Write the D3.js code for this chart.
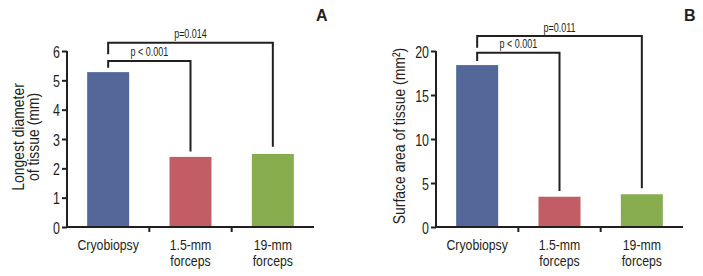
<!DOCTYPE html>
<html><head><meta charset="utf-8">
<script src="https://cdn.jsdelivr.net/npm/d3@7"></script>
<style>
html,body{margin:0;padding:0;background:#fff;}
text{font-family:"Liberation Sans",Arial,sans-serif;fill:#231f20;}
</style></head><body>
<svg id="c" width="703" height="276"></svg>
<script>
const categories = [["Cryobiopsy"], ["1.5-mm", "forceps"], ["19-mm", "forceps"]];
const catKeys = ["Cryobiopsy", "1.5-mm forceps", "19-mm forceps"];
const colors = ["#536898", "#c25d65", "#87ad4f"];

const valuesA = [5.28, 2.39, 2.49];
const ticksA = [0, 1, 2, 3, 4, 5, 6];
const yLabelA = ["Longest diameter", "of tissue (mm)"];
// brackets: [fromIdx, toIdx, level, leftBottom, rightBottom, label]
const bracketsA = [
  [0, 1, 5.66, 5.43, 2.57, "p < 0.001"],
  [0, 2, 6.28, 5.89, 2.74, "p=0.014"]
];

const valuesB = [18.4, 3.44, 3.72];
const ticksB = [0, 5, 10, 15, 20];
const yLabelB = ["Surface area of tissue (mm²)"];
const bracketsB = [
  [0, 1, 19.81, 18.86, 4.09, "p < 0.001"],
  [0, 2, 21.70, 20.38, 4.40, "p=0.011"]
];

const svg = d3.select("#c");
const AX = "#231f20";

function ctext(g, x, y, str, size, sx, rot) {
  return g.append("text")
    .attr("transform", `translate(${x},${y})${rot ? " rotate(-90)" : ""} scale(${sx},1)`)
    .attr("text-anchor", "middle")
    .attr("font-size", size)
    .text(str);
}

function panel(cfg) {
  const g = svg.append("g");
  const x = d3.scaleBand().domain(catKeys).range([cfg.x0, cfg.x1]).padding(0);
  const y = d3.scaleLinear().domain([0, d3.max(cfg.ticks)]).range([227, 51]);
  const bw = x.bandwidth() * 0.51;

  // bars
  g.selectAll("rect.bar").data(cfg.values).join("rect")
    .attr("x", (d, i) => x(catKeys[i]) + (x.bandwidth() - bw) / 2)
    .attr("y", d => y(d))
    .attr("width", bw)
    .attr("height", d => y(0) - y(d))
    .attr("fill", (d, i) => colors[i]);

  // y axis
  const ya = d3.axisLeft(y).tickValues(cfg.ticks).tickSize(5).tickPadding(3).tickFormat(d3.format("d"));
  const yg = g.append("g").attr("transform", `translate(${cfg.x0},0)`).call(ya);
  yg.select(".domain").attr("d", `M0,${y(d3.max(cfg.ticks))}V${y(0)}`).attr("stroke", AX).attr("stroke-width", 2);
  yg.selectAll(".tick line").attr("stroke", AX).attr("stroke-width", 2);
  yg.selectAll(".tick text")
    .attr("x", null).attr("dy", null)
    .attr("transform", `translate(-7,6) scale(0.78,1)`)
    .attr("font-size", 16)
    .style("font-family", '"Liberation Sans",Arial,sans-serif')
    .attr("fill", AX);

  // x axis line and boundary ticks
  g.append("line").attr("x1", cfg.x0 - 1).attr("x2", cfg.x1).attr("y1", y(0)).attr("y2", y(0))
    .attr("stroke", AX).attr("stroke-width", 2);
  g.selectAll("line.xt").data(catKeys.slice(1)).join("line")
    .attr("x1", d => x(d)).attr("x2", d => x(d))
    .attr("y1", y(0)).attr("y2", y(0) + 5)
    .attr("stroke", AX).attr("stroke-width", 2);

  // x labels
  categories.forEach((lines, i) => {
    const cx = x(catKeys[i]) + x.bandwidth() / 2;
    lines.forEach((l, j) => ctext(g, cx, 250 + j * 16, l, 15, 0.82));
  });

  // brackets
  cfg.brackets.forEach(b => {
    const xl = x(catKeys[b[0]]) + x.bandwidth() / 2;
    const xr = x(catKeys[b[1]]) + x.bandwidth() / 2;
    g.append("path")
      .attr("d", `M${xl},${y(b[3])}V${y(b[2])}H${xr}V${y(b[4])}`)
      .attr("fill", "none").attr("stroke", AX).attr("stroke-width", 2);
    ctext(g, (xl + xr) / 2, y(b[2]) - 4.5, b[5], 12, 0.75);
  });

  // y label
  cfg.yLabel.forEach((l, j) => ctext(g, cfg.labX + j * 14.5, cfg.labY, l, 17, 0.82, true));

  // panel letter
  svg.append("text").attr("x", cfg.letterX).attr("y", 21).attr("font-size", 16).attr("font-weight", "bold")
    .text(cfg.letter);
}

panel({x0: 67, x1: 314, values: valuesA, ticks: ticksA, brackets: bracketsA, yLabel: yLabelA, labX: 24, labY: 137, letter: "A", letterX: 316});
panel({x0: 436, x1: 683, values: valuesB, ticks: ticksB, brackets: bracketsB, yLabel: yLabelB, labX: 405, labY: 136, letter: "B", letterX: 684});
</script>
</body></html>
